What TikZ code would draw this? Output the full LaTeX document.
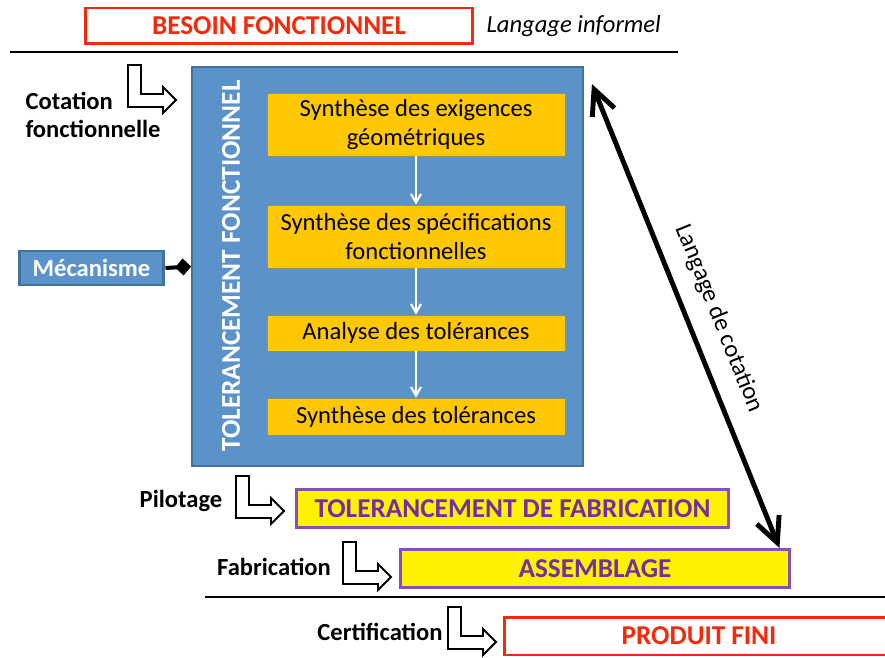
\documentclass[tikz,border=0pt]{standalone}
\usepackage{fontspec}
\setmainfont{Carlito}
\usetikzlibrary{arrows.meta,calc}
\definecolor{bleu}{RGB}{91,146,201}
\definecolor{bleufonce}{RGB}{65,113,156}
\definecolor{orjaune}{RGB}{255,200,0}
\definecolor{rouge}{RGB}{250,40,10}
\definecolor{violet}{RGB}{132,80,190}
\definecolor{violettexte}{RGB}{112,48,160}
\tikzset{
  hookarrow/.pic={\draw[line width=1.1pt,fill=white](0,0)--(13,0)--(13,29)--(35,29)--(35,22)--(48,35)--(35,48)--(35,42)--(0,42)--cycle;},
  etape/.style={draw=bleufonce!60!orjaune,line width=0.5pt,fill=orjaune,minimum width=5.96cm,align=center,inner sep=0pt},
  gros/.style={font=\fontsize{15.5}{18}\selectfont\bfseries},
  cadrerouge/.style={draw=rouge,line width=1.7pt,text=rouge,gros,minimum height=0.72cm},
  cadreviolet/.style={draw=violet,line width=1.7pt,fill=yellow,text=violettexte,gros,minimum height=0.76cm},
  etiquette/.style={font=\bfseries},
  fleche/.style={draw=white,line width=1.2pt,-{Straight Barb[length=0.17cm,width=0.2cm]}}
}
\begin{document}
\fontsize{14}{16.3}\selectfont
\begin{tikzpicture}[x=0.02cm,y=-0.02cm]
\useasboundingbox(0,0)rectangle(885,658);
\node[cadrerouge,minimum width=7.76cm](besoin)at(279,26){BESOIN FONCTIONNEL};
\node[anchor=west,font=\itshape](informel)at(478,26){Langage informel};
\draw[line width=0.9pt](10,52)--(678,52);
\node[draw=bleufonce,line width=1.1pt,fill=bleu,minimum width=7.82cm,minimum height=7.98cm](tf)at(387.5,266.5){};
\node[rotate=90,text=white,gros](tflabel)at(231,266){TOLERANCEMENT FONCTIONNEL};
\node[etape,minimum height=1.26cm](s1)at(416,124.5){Synthèse des exigences\\géométriques};
\node[etape,minimum height=1.26cm](s2)at(416,236.5){Synthèse des spécifications\\fonctionnelles};
\node[etape,minimum height=0.72cm](s3)at(416,333){Analyse des tolérances};
\node[etape,minimum height=0.74cm](s4)at(416,416.5){Synthèse des tolérances};
\draw[fleche](s1)--(s2);
\draw[fleche](s2)--(s3);
\draw[fleche](s3)--(s4);
\node[draw=bleufonce,line width=1.7pt,fill=bleu,text=white,font=\bfseries,minimum width=2.9cm,minimum height=0.68cm](meca)at(91.5,268){Mécanisme};
\draw[line width=2.3pt,-{Diamond[length=0.32cm,width=0.34cm]}](meca.east)--(tf.west);
\node[etiquette,align=left,anchor=west](cotation)at(17,115){Cotation\\fonctionnelle};
\pic at(128,65){hookarrow};
\node[etiquette](pilotage)at(181,501){Pilotage};
\pic at(236,476){hookarrow};
\node[cadreviolet,minimum width=8.66cm](tolfab)at(512.5,508.5){TOLERANCEMENT DE FABRICATION};
\node[etiquette](fabrication)at(274,567){Fabrication};
\pic at(343,542){hookarrow};
\node[cadreviolet,minimum width=7.8cm](assemb)at(595,568.5){ASSEMBLAGE};
\draw[line width=0.9pt](205,597)--(885,597);
\node[etiquette](certification)at(380,632){Certification};
\pic at(448,607){hookarrow};
\node[cadrerouge,minimum width=7.8cm,minimum height=0.76cm](produit)at(699,636){PRODUIT FINI};
\draw[line width=2.8pt,line cap=round,{Straight Barb[length=0.5cm,width=0.48cm]}-{Straight Barb[length=0.5cm,width=0.48cm]}]
  ($(tf.north east)+(8,18)$)--($(assemb.north east)+(-12,0)$)node[pos=0.53,sloped,above=5pt](cotlang){Langage de cotation};
\end{tikzpicture}
\end{document}
